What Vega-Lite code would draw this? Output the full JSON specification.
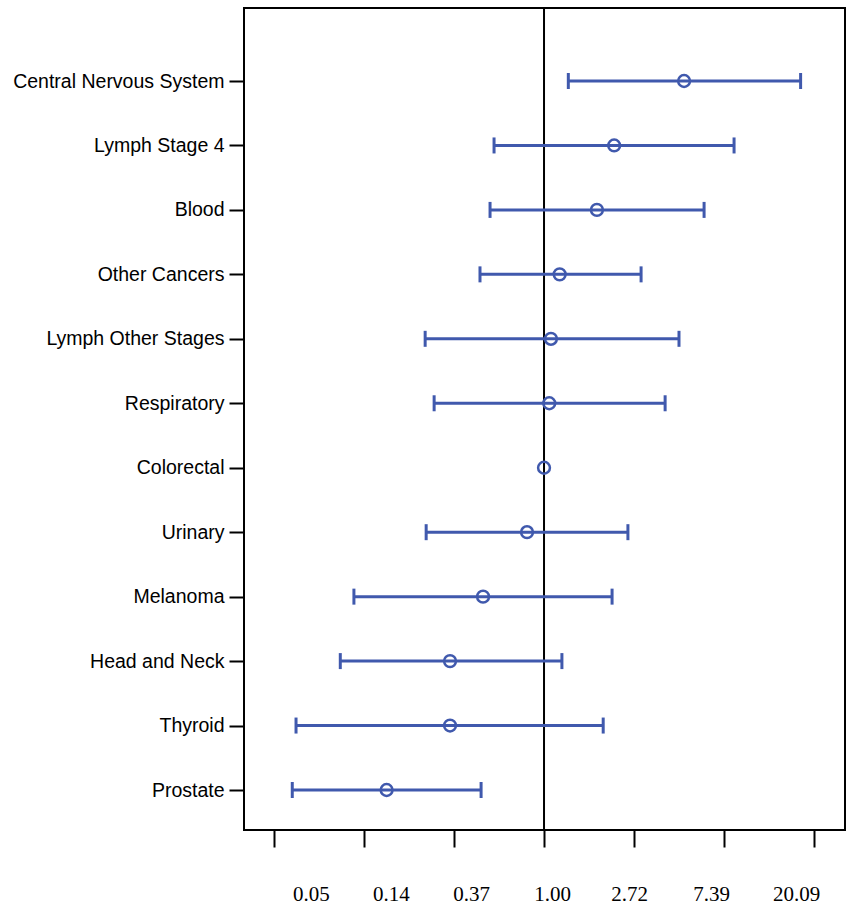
{
  "$schema": "https://vega.github.io/schema/vega-lite/v6.json",
  "autosize": "none",
  "padding": {"left": 244, "top": 8, "right": 3, "bottom": 79},
  "width": 601,
  "height": 822,
  "background": "white",
  "config": {
    "view": {"stroke": "black", "strokeWidth": 2},
    "axis": {"grid": false, "domain": false, "tickColor": "black", "tickWidth": 2, "labelColor": "black", "title": null}
  },
  "datasets": {
    "est": [
      {"cancer": "Central Nervous System", "estimate": 4.74, "lower": 1.31, "upper": 17.3},
      {"cancer": "Lymph Stage 4", "estimate": 2.18, "lower": 0.574, "upper": 8.26},
      {"cancer": "Blood", "estimate": 1.80, "lower": 0.549, "upper": 5.92},
      {"cancer": "Other Cancers", "estimate": 1.19, "lower": 0.491, "upper": 2.94},
      {"cancer": "Lymph Other Stages", "estimate": 1.08, "lower": 0.267, "upper": 4.48},
      {"cancer": "Respiratory", "estimate": 1.06, "lower": 0.295, "upper": 3.84},
      {"cancer": "Colorectal", "estimate": 1.0, "lower": null, "upper": null},
      {"cancer": "Urinary", "estimate": 0.828, "lower": 0.270, "upper": 2.54},
      {"cancer": "Melanoma", "estimate": 0.508, "lower": 0.121, "upper": 2.13},
      {"cancer": "Head and Neck", "estimate": 0.352, "lower": 0.104, "upper": 1.22},
      {"cancer": "Thyroid", "estimate": 0.352, "lower": 0.0636, "upper": 1.93},
      {"cancer": "Prostate", "estimate": 0.174, "lower": 0.061, "upper": 0.497}
    ],
    "ref": [{"value": 1}]
  },
  "data": {"name": "est"},
  "encoding": {
    "y": {
      "field": "cancer",
      "type": "nominal",
      "sort": ["Central Nervous System", "Lymph Stage 4", "Blood", "Other Cancers", "Lymph Other Stages", "Respiratory", "Colorectal", "Urinary", "Melanoma", "Head and Neck", "Thyroid", "Prostate"],
      "scale": {"type": "point", "range": [73, 782], "padding": 0},
      "axis": {"labelFont": "Liberation Sans", "labelFontSize": 19.5, "tickSize": 15, "labelPadding": 5, "labelLimit": 300}
    }
  },
  "layer": [
    {
      "data": {"name": "ref"},
      "mark": {"type": "rule", "color": "black", "strokeWidth": 2},
      "encoding": {
        "x": {"field": "value", "type": "quantitative"},
        "y": null
      }
    },
    {
      "mark": {"type": "rule", "color": "#4059ad", "strokeWidth": 3},
      "encoding": {
        "x": {
          "field": "lower",
          "type": "quantitative",
          "scale": {"type": "log", "base": 2.718281828459045, "domain": [0.03568, 28.33], "nice": false, "zero": false},
          "axis": {
            "values": [0.049787, 0.135335, 0.367879, 1, 2.718282, 7.389056, 20.085537],
            "format": ".2f",
            "labelFont": "Liberation Serif",
            "labelFontSize": 21,
            "tickSize": 17,
            "labelPadding": 36,
            "labelFlush": false,
            "labelOverlap": false,
            "labelOffset": {
              "condition": [
                {"test": "datum.value < 0.1", "value": 37},
                {"test": "datum.value < 0.2", "value": 27},
                {"test": "datum.value < 0.5", "value": 17},
                {"test": "datum.value < 1.5", "value": 8},
                {"test": "datum.value < 3", "value": -5},
                {"test": "datum.value < 10", "value": -13}
              ],
              "value": -18
            }
          }
        },
        "x2": {"field": "upper"}
      }
    },
    {
      "mark": {"type": "tick", "color": "#4059ad", "thickness": 3, "size": 16, "opacity": 1},
      "encoding": {"x": {"field": "lower", "type": "quantitative"}}
    },
    {
      "mark": {"type": "tick", "color": "#4059ad", "thickness": 3, "size": 16, "opacity": 1},
      "encoding": {"x": {"field": "upper", "type": "quantitative"}}
    },
    {
      "mark": {"type": "point", "shape": "circle", "filled": false, "color": "#4059ad", "strokeWidth": 2.5, "size": 140, "opacity": 1},
      "encoding": {"x": {"field": "estimate", "type": "quantitative"}}
    }
  ]
}
